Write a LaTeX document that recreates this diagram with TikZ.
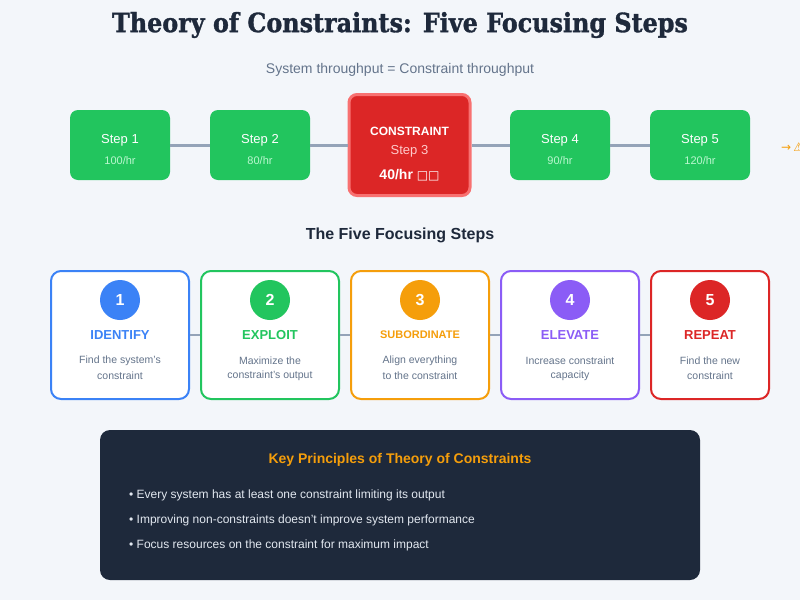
\documentclass[tikz,border=0pt]{standalone}
\usepackage{fontspec}
\setmainfont{Liberation Sans}
\newfontfamily\titlefont[FakeStretch=0.9,FakeBold=1.2]{DejaVu Serif Bold}
\newfontfamily\symfont{DejaVu Sans}
\definecolor{bg}{HTML}{F3F6FA}
\definecolor{dark}{HTML}{1E293B}
\definecolor{slate}{HTML}{64748B}
\definecolor{conncol}{HTML}{94A3B8}
\definecolor{cgreen}{HTML}{22C55E}
\definecolor{lgreen}{HTML}{BBF7D0}
\definecolor{cblue}{HTML}{3B82F6}
\definecolor{corange}{HTML}{F59E0B}
\definecolor{cpurple}{HTML}{8B5CF6}
\definecolor{cred}{HTML}{DC2626}
\definecolor{lred}{HTML}{F87171}
\definecolor{pink}{HTML}{FECACA}
\definecolor{light}{HTML}{E2E8F0}
\newcommand{\fsz}[1]{\fontsize{#1}{#1}\selectfont}
\tikzset{
  stepbox/.style={rounded corners=8pt, fill=cgreen, minimum width=100pt, minimum height=70pt, inner sep=0pt},
  conn/.style={draw=conncol, line width=3pt},
  cardconn/.style={draw=conncol, line width=2pt},
  card/.style={rounded corners=10pt, draw=#1, line width=2pt, fill=white, minimum height=128pt, inner sep=0pt},
  num/.style={circle, fill=#1, minimum size=40pt, inner sep=0pt, text=white, font=\fsz{16}\bfseries},
  lbl/.style={text=#1, font=\fsz{13}\bfseries, inner sep=0pt},
  desc/.style={text=slate, font=\fsz{10.5}, align=center, inner sep=0pt},
  txt/.style={inner sep=0pt},
}
\begin{document}
\begin{tikzpicture}[x=1pt,y=-1pt]
\path[use as bounding box, fill=bg] (0,0) rectangle (800,600);
\begin{scope}
\clip (0,0) rectangle (800,600);
% title
\node[txt, text=dark, font=\titlefont\fsz{26.5}] (title) at (400,25) {Theory of Constraints: Five Focusing Steps};
\node[txt, text=slate, font=\fsz{14}] (sub) at (400,70) {System throughput = Constraint throughput};
% top flow
\node[stepbox] (s1) at (120,145) {};
\node[stepbox] (s2) at (260,145) {};
\node[rounded corners=8pt, fill=cred, draw=lred, line width=3pt, minimum width=121pt, minimum height=101pt, inner sep=0pt] (s3) at (409.5,145) {};
\node[stepbox] (s4) at (560,145) {};
\node[stepbox] (s5) at (700,145) {};
\draw[conn] (s1.east) -- (s2.west);
\draw[conn] (s2.east) -- (s3.west);
\draw[conn] (s3.east) -- (s4.west);
\draw[conn] (s4.east) -- (s5.west);
\node[txt, text=white, font=\fsz{13}] (s1a) at (120,140) {Step 1};
\node[txt, text=lgreen, font=\fsz{11}] (s1b) at (120,161) {100/hr};
\node[txt, text=white, font=\fsz{13}] (s2a) at (260,140) {Step 2};
\node[txt, text=lgreen, font=\fsz{11}] (s2b) at (260,161) {80/hr};
\node[txt, text=white, font=\fsz{12}\bfseries] (s3a) at (409.5,131) {CONSTRAINT};
\node[txt, text=pink, font=\fsz{13}] (s3b) at (409.5,151) {Step 3};
\node[txt, text=white, font=\fsz{14}\bfseries] (s3c) at (409.5,175) {40/hr {\symfont\fsz{12}□□}};
\node[txt, text=white, font=\fsz{13}] (s4a) at (560,140) {Step 4};
\node[txt, text=lgreen, font=\fsz{11}] (s4b) at (560,161) {90/hr};
\node[txt, text=white, font=\fsz{13}] (s5a) at (700,140) {Step 5};
\node[txt, text=lgreen, font=\fsz{11}] (s5b) at (700,161) {120/hr};
\node[txt, anchor=west, text=corange, font=\symfont\fsz{12}] (warn) at (781,147) {→\,⚠};
% five steps
\node[txt, text=dark, font=\fsz{16}\bfseries] (h2) at (400,235) {The Five Focusing Steps};
\node[card=cblue, minimum width=138pt] (c1) at (120,335) {};
\node[card=cgreen, minimum width=138pt] (c2) at (270,335) {};
\node[card=corange, minimum width=138pt] (c3) at (420,335) {};
\node[card=cpurple, minimum width=138pt] (c4) at (570,335) {};
\node[card=cred, minimum width=118pt] (c5) at (710,335) {};
\draw[cardconn] (c1.east) -- (c2.west);
\draw[cardconn] (c2.east) -- (c3.west);
\draw[cardconn] (c3.east) -- (c4.west);
\draw[cardconn] (c4.east) -- (c5.west);
\node[num=cblue] (n1) at (120,300) {1};
\node[num=cgreen] (n2) at (270,300) {2};
\node[num=corange] (n3) at (420,300) {3};
\node[num=cpurple] (n4) at (570,300) {4};
\node[num=cred] (n5) at (710,300) {5};
\node[lbl=cblue] (l1) at (120,335) {IDENTIFY};
\node[lbl=cgreen] (l2) at (270,335) {EXPLOIT};
\node[lbl=corange, font=\fsz{11}\bfseries] (l3) at (420,335) {SUBORDINATE};
\node[lbl=cpurple] (l4) at (570,335) {ELEVATE};
\node[lbl=cred] (l5) at (710,335) {REPEAT};
\node[desc] (d1a) at (120,361) {Find the system's};
\node[desc] (d1b) at (120,376) {constraint};
\node[desc] (d2a) at (270,361) {Maximize the};
\node[desc] (d2b) at (270,376) {constraint's output};
\node[desc] (d3a) at (420,361) {Align everything};
\node[desc] (d3b) at (420,376) {to the constraint};
\node[desc] (d4a) at (570,361) {Increase constraint};
\node[desc] (d4b) at (570,376) {capacity};
\node[desc] (d5a) at (710,361) {Find the new};
\node[desc] (d5b) at (710,376) {constraint};
% principles
\node[rounded corners=10pt, fill=dark, minimum width=600pt, minimum height=150pt, inner sep=0pt] (panel) at (400,505) {};
\node[txt, text=corange, font=\fsz{14}\bfseries] (ph) at (400,460) {Key Principles of Theory of Constraints};
\node[txt, anchor=west, text=light, font=\fsz{12}] (p1) at (129,495) {• Every system has at least one constraint limiting its output};
\node[txt, anchor=west, text=light, font=\fsz{12}] (p2) at (129,520) {• Improving non-constraints doesn't improve system performance};
\node[txt, anchor=west, text=light, font=\fsz{12}] (p3) at (129,545) {• Focus resources on the constraint for maximum impact};
\end{scope}
\end{tikzpicture}
\end{document}
